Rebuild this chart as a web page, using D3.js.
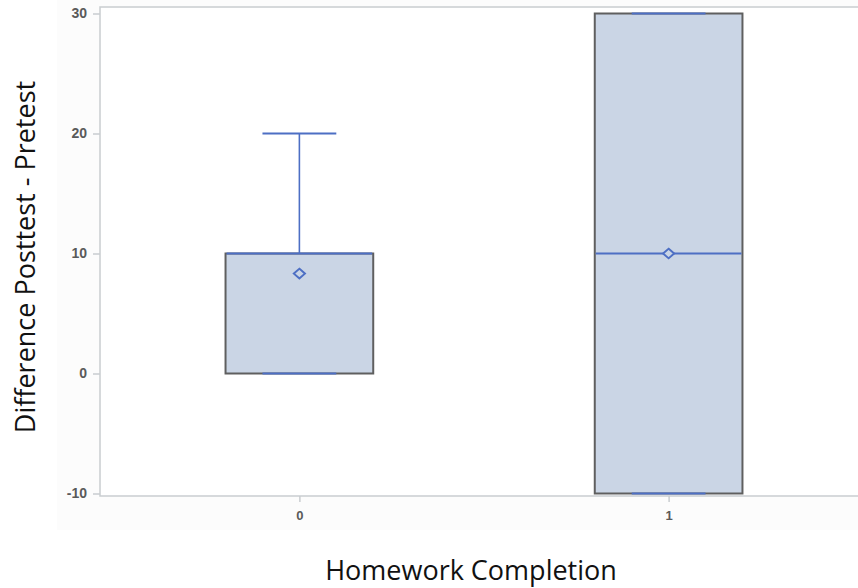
<!DOCTYPE html>
<html lang="en">
<head>
<meta charset="utf-8">
<title>Box Plot</title>
<script src="https://cdnjs.cloudflare.com/ajax/libs/d3/7.8.5/d3.min.js"></script>
<style>
  body { margin: 0; background: #fff; }
  svg { display: block; }
</style>
</head>
<body>
<div id="chart"></div>
<script>
// data
const groups = ['0', '1'];
const mins = [0, -10];
const q1s = [0, -10];
const medians = [10, 10];
const q3s = [10, 30];
const maxs = [20, 30];
const means = [8.33, 10];
const yTicks = [-10, 0, 10, 20, 30];

const w = 858, h = 588;
const plotLeft = 100, plotTop = 7, plotBottom = 496;

const svg = d3.select('#chart').append('svg')
  .attr('width', w).attr('height', h);

// faint panel behind the graph
svg.append('rect')
  .attr('x', 57).attr('y', 0)
  .attr('width', w - 57).attr('height', 530)
  .attr('fill', '#fcfcfc');

const x = d3.scalePoint()
  .domain(groups)
  .range([plotLeft, 868])
  .padding(0.54);

const y = d3.scaleLinear()
  .domain([-10, 30])
  .range([493.5, 13.5]);

const step = x.step();
const boxW = step * 0.4;
const capW = step * 0.2;

// plot frame
svg.append('rect')
  .attr('x', plotLeft).attr('y', plotTop)
  .attr('width', 900).attr('height', plotBottom - plotTop)
  .attr('fill', '#fff')
  .attr('stroke', '#c9cdd0')
  .attr('stroke-width', 1.5);

// y axis
const yAxis = svg.append('g')
  .attr('transform', 'translate(' + plotLeft + ',0)')
  .call(d3.axisLeft(y).tickValues(yTicks).tickFormat((d) => String(d)).tickSize(7).tickPadding(6));
yAxis.select('.domain').remove();
yAxis.selectAll('line').attr('stroke', '#c9cdd0').attr('stroke-width', 1.5);
yAxis.selectAll('text')
  .attr('font-family', 'Liberation Sans, Arial, sans-serif')
  .attr('font-size', 14).attr('font-weight', 'bold').attr('fill', '#5a5a5a');

// x axis
const xAxis = svg.append('g')
  .attr('transform', 'translate(0,' + plotBottom + ')')
  .call(d3.axisBottom(x).tickSize(6).tickPadding(9));
xAxis.select('.domain').remove();
xAxis.selectAll('line').attr('stroke', '#c9cdd0').attr('stroke-width', 1.5);
xAxis.selectAll('text')
  .attr('font-family', 'Liberation Sans, Arial, sans-serif')
  .attr('font-size', 13).attr('font-weight', 'bold').attr('fill', '#5a5a5a');

const blue = '#4d6fc4';
const fill = '#cad5e5';
const edge = '#5f5f5f';

const boxes = svg.selectAll('.box')
  .data(groups)
  .enter().append('g')
  .attr('class', 'box');

// box
boxes.append('rect')
  .attr('x', (d) => x(d) - boxW / 2)
  .attr('y', (d, i) => y(q3s[i]))
  .attr('width', boxW)
  .attr('height', (d, i) => y(q1s[i]) - y(q3s[i]))
  .attr('fill', fill)
  .attr('stroke', edge)
  .attr('stroke-width', 2);

// whiskers
boxes.append('line')
  .attr('x1', (d) => x(d)).attr('x2', (d) => x(d))
  .attr('y1', (d, i) => y(q3s[i])).attr('y2', (d, i) => y(maxs[i]))
  .attr('stroke', blue).attr('stroke-width', 1.6);
boxes.append('line')
  .attr('x1', (d) => x(d)).attr('x2', (d) => x(d))
  .attr('y1', (d, i) => y(q1s[i])).attr('y2', (d, i) => y(mins[i]))
  .attr('stroke', blue).attr('stroke-width', 1.6);

// caps
boxes.append('line')
  .attr('x1', (d) => x(d) - capW / 2).attr('x2', (d) => x(d) + capW / 2)
  .attr('y1', (d, i) => y(maxs[i])).attr('y2', (d, i) => y(maxs[i]))
  .attr('stroke', blue).attr('stroke-width', 2);
boxes.append('line')
  .attr('x1', (d) => x(d) - capW / 2).attr('x2', (d) => x(d) + capW / 2)
  .attr('y1', (d, i) => y(mins[i])).attr('y2', (d, i) => y(mins[i]))
  .attr('stroke', blue).attr('stroke-width', 2);

// median
boxes.append('line')
  .attr('x1', (d) => x(d) - boxW / 2 + 1).attr('x2', (d) => x(d) + boxW / 2 - 1)
  .attr('y1', (d, i) => y(medians[i])).attr('y2', (d, i) => y(medians[i]))
  .attr('stroke', blue).attr('stroke-width', 1.8);

// mean marker
boxes.append('path')
  .attr('d', d3.symbol(d3.symbolDiamond2, 60))
  .attr('transform', (d, i) => 'translate(' + x(d) + ',' + y(means[i]) + ') scale(1.15,1)')
  .attr('fill', fill)
  .attr('stroke', blue)
  .attr('stroke-width', 1.8);

// axis titles
svg.append('text')
  .attr('transform', 'translate(35,257) rotate(-90)')
  .attr('text-anchor', 'middle')
  .attr('font-family', 'Open Sans, sans-serif')
  .attr('font-size', 27)
  .attr('fill', '#111')
  .text('Difference Posttest - Pretest');

svg.append('text')
  .attr('x', 471).attr('y', 580)
  .attr('text-anchor', 'middle')
  .attr('font-family', 'Open Sans, sans-serif')
  .attr('font-size', 27)
  .attr('fill', '#111')
  .text('Homework Completion');
</script>
</body>
</html>
